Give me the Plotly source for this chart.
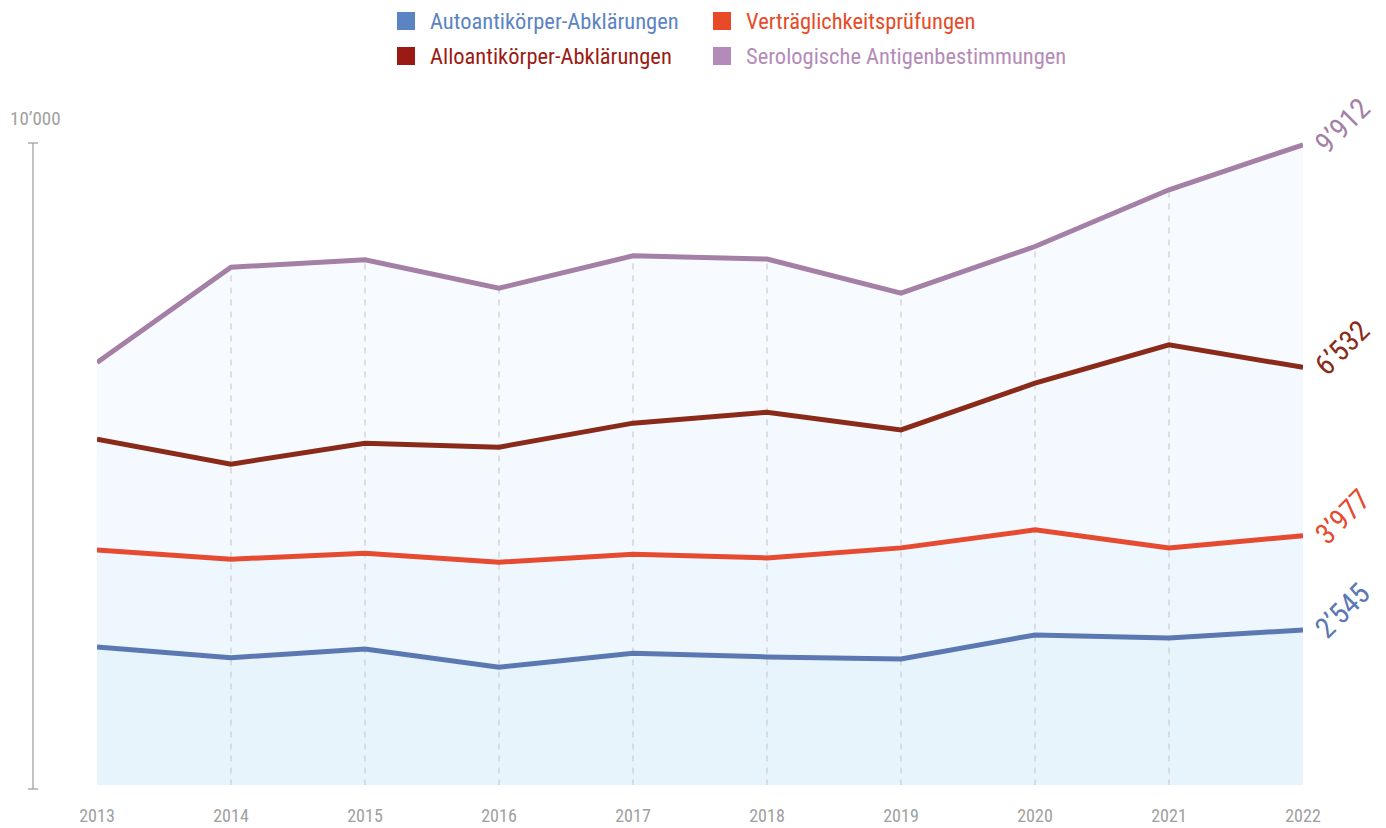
import plotly.graph_objects as go

years = [2013, 2014, 2015, 2016, 2017, 2018, 2019, 2020, 2021, 2022]
series_names = ["Autoantikörper-Abklärungen", "Verträglichkeitsprüfungen",
                "Alloantikörper-Abklärungen", "Serologische Antigenbestimmungen"]
auto_vals = [2287, 2124, 2256, 1978, 2191, 2135, 2105, 2469, 2424, 2545]
vert_vals = [3760, 3619, 3710, 3573, 3695, 3639, 3791, 4064, 3791, 3977]
allo_vals = [5442, 5062, 5381, 5320, 5685, 5852, 5583, 6292, 6874, 6532]
sero_vals = [6605, 8054, 8165, 7735, 8226, 8176, 7659, 8367, 9229, 9912]
y_top_label = "10’000"

all_vals = [auto_vals, vert_vals, allo_vals, sero_vals]
line_colors = ["#5b78b3", "#e64a30", "#8a2b1a", "#a47fa6"]
legend_colors = ["#5b84c4", "#e84a27", "#9b1b14", "#b48bb8"]
fill_colors = ["#e8f4fc", "#eef7fd", "#f3f9fe", "#f7fbff"]

FONT = "Roboto Condensed, Liberation Sans Narrow, Roboto, sans-serif"

fig = go.Figure()

for i, vals in enumerate(all_vals):
    fig.add_trace(go.Scatter(
        x=years, y=vals, mode="lines", line=dict(width=0),
        fill="tozeroy" if i == 0 else "tonexty", fillcolor=fill_colors[i],
        hoverinfo="skip", showlegend=False))

gx, gy = [], []
for yr, v in zip(years[1:-1], sero_vals[1:-1]):
    gx += [yr, yr, None]
    gy += [0, v, None]
fig.add_trace(go.Scatter(x=gx, y=gy, mode="lines",
                         line=dict(color="#cccccc", width=1.2, dash="6px,6px"),
                         hoverinfo="skip", showlegend=False))

for i, vals in enumerate(all_vals):
    fig.add_trace(go.Scatter(
        x=years, y=vals, mode="lines", name=series_names[i],
        line=dict(color=line_colors[i], width=5), showlegend=False))

annotations = []
shapes = []

for i, vals in enumerate(all_vals):
    txt = f"{vals[-1]:,}".replace(",", "’")
    annotations.append(dict(
        x=years[-1], y=vals[-1], xref="x", yref="y", text=txt, showarrow=False,
        textangle=-45, xanchor="center", yanchor="middle", xshift=39, yshift=19,
        font=dict(family=FONT, size=29, color=line_colors[i])))

OFF = 8
W, H = 1386 - OFF, 828 - OFF
PL, PR, PT, PB = 97 - OFF, 83, 139 - OFF, 43
pw, ph = W - PL - PR, H - PT - PB

def px2paper(px, py):
    return (px - OFF - PL) / pw, (H - PB - (py - OFF)) / ph

leg_pos = [(397, 21), (713, 21), (397, 56), (713, 56)]
for i, (lx, ly) in enumerate(leg_pos):
    x0, y0 = px2paper(lx, ly - 9)
    x1, y1 = px2paper(lx + 18, ly + 9)
    shapes.append(dict(type="rect", xref="paper", yref="paper", x0=x0, x1=x1,
                       y0=y1, y1=y0, fillcolor=legend_colors[i], line=dict(width=0)))
    tx, ty = px2paper(lx + 31, ly)
    annotations.append(dict(x=tx, y=ty, xref="paper", yref="paper", text=series_names[i],
                            showarrow=False, xanchor="left", yanchor="middle",
                            font=dict(family=FONT, size=22.5, color=legend_colors[i])))

ax, _ = px2paper(33, 0)
_, ytop = px2paper(0, 143)
_, ybot = px2paper(0, 789)
axl, _ = px2paper(28, 0)
axr, _ = px2paper(38, 0)
shapes.append(dict(type="line", xref="paper", yref="paper", x0=ax, x1=ax, y0=ybot, y1=ytop,
                   line=dict(color="#999999", width=1.2)))
for yy in (ytop, ybot):
    shapes.append(dict(type="line", xref="paper", yref="paper", x0=axl, x1=axr, y0=yy, y1=yy,
                       line=dict(color="#999999", width=1.2)))
lx_, ly_ = px2paper(8, 118)
annotations.append(dict(x=lx_, y=ly_, xref="paper", yref="paper", text=y_top_label,
                        showarrow=False, xanchor="left", yanchor="middle",
                        font=dict(family=FONT, size=19, color="#a0a0a0")))

fig.update_layout(
    width=W, height=H,
    margin=dict(l=PL, r=PR, t=PT, b=PB, autoexpand=False),
    paper_bgcolor="white", plot_bgcolor="white",
    showlegend=False,
    annotations=annotations, shapes=shapes,
    xaxis=dict(range=[2013, 2022], tickvals=years, ticktext=[str(y) for y in years],
               showgrid=False, zeroline=False, showline=False,
               ticks="outside", ticklen=14, tickcolor="rgba(0,0,0,0)",
               tickfont=dict(family=FONT, size=18, color="#a0a0a0")),
    yaxis=dict(range=[190, 10000], showgrid=False, zeroline=False, showline=False,
               showticklabels=False, ticks=""),
)

fig.write_html("out.html")
